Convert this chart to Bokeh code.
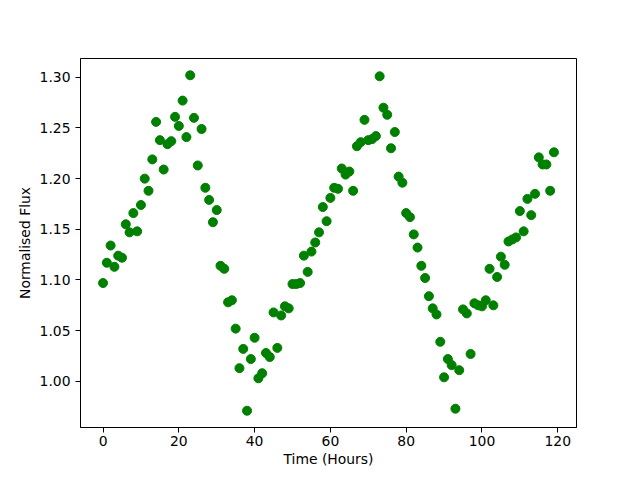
from bokeh.plotting import figure
from bokeh.models import Range1d, FixedTicker, NumeralTickFormatter
from bokeh.embed import file_html
from bokeh.resources import INLINE

hours = list(range(120))
flux = [
    1.097, 1.117, 1.134, 1.113, 1.124, 1.122, 1.155, 1.147, 1.166, 1.148,
    1.174, 1.200, 1.188, 1.219, 1.256, 1.238, 1.209, 1.234, 1.237, 1.261,
    1.252, 1.277, 1.241, 1.302, 1.260, 1.213, 1.249, 1.191, 1.179, 1.157,
    1.169, 1.114, 1.111, 1.078, 1.080, 1.052, 1.013, 1.032, 0.971, 1.022,
    1.043, 1.003, 1.008, 1.028, 1.024, 1.068, 1.033, 1.065, 1.074, 1.072,
    1.096, 1.096, 1.097, 1.124, 1.108, 1.128, 1.137, 1.147, 1.172, 1.158,
    1.181, 1.191, 1.190, 1.210, 1.204, 1.207, 1.188, 1.232, 1.236, 1.258,
    1.238, 1.239, 1.242, 1.301, 1.270, 1.263, 1.230, 1.246, 1.202, 1.196,
    1.166, 1.162, 1.145, 1.132, 1.114, 1.102, 1.084, 1.072, 1.066, 1.039,
    1.004, 1.022, 1.016, 0.973, 1.011, 1.071, 1.067, 1.027, 1.077, 1.075,
    1.074, 1.080, 1.111, 1.075, 1.103, 1.123, 1.115, 1.138, 1.140, 1.142,
    1.168, 1.148, 1.180, 1.164, 1.185, 1.221, 1.214, 1.214, 1.188, 1.226,
]
x_ticks = [0, 20, 40, 60, 80, 100, 120]
y_ticks = [1.00, 1.05, 1.10, 1.15, 1.20, 1.25, 1.30]

xmin, xmax = min(hours), max(hours)
ymin, ymax = min(flux), max(flux)
xm = (xmax - xmin) * 0.05
ym = (ymax - ymin) * 0.05

p = figure(width=632, height=472, output_backend="svg", toolbar_location=None,
           x_range=Range1d(xmin - xm, xmax + xm), y_range=Range1d(ymin - ym, ymax + ym),
           min_border_left=80, min_border_right=56, min_border_top=58, min_border_bottom=45)
p.background_fill_color = "white"
p.border_fill_color = "white"
p.outline_line_color = "black"
p.outline_line_alpha = 1.0
p.outline_line_width = 1
p.xgrid.visible = False
p.ygrid.visible = False

p.scatter(hours, flux, size=9, color="green", line_color="green")

font = "DejaVu Sans"
for ax in (p.xaxis[0], p.yaxis[0]):
    ax.major_tick_out = 5
    ax.major_tick_in = 0
    ax.minor_tick_out = 0
    ax.minor_tick_in = 0
    ax.axis_line_color = "black"
    ax.major_tick_line_color = "black"
    ax.major_label_text_font = font
    ax.major_label_text_font_size = "13.9px"
    ax.major_label_text_color = "black"
    ax.axis_label_text_font = font
    ax.axis_label_text_font_size = "13.9px"
    ax.axis_label_text_font_style = "normal"
    ax.axis_label_text_color = "black"
    ax.major_label_standoff = 5

p.xaxis.major_label_standoff = 3
p.xaxis.ticker = FixedTicker(ticks=x_ticks)
p.yaxis.ticker = FixedTicker(ticks=y_ticks)
p.yaxis.formatter = NumeralTickFormatter(format="0.00")
p.xaxis.axis_label = "Time (Hours)"
p.yaxis.axis_label = "Normalised Flux"
p.xaxis.axis_label_standoff = 2
p.yaxis.axis_label_standoff = 4

open("out.html", "w").write(file_html(p, INLINE))
